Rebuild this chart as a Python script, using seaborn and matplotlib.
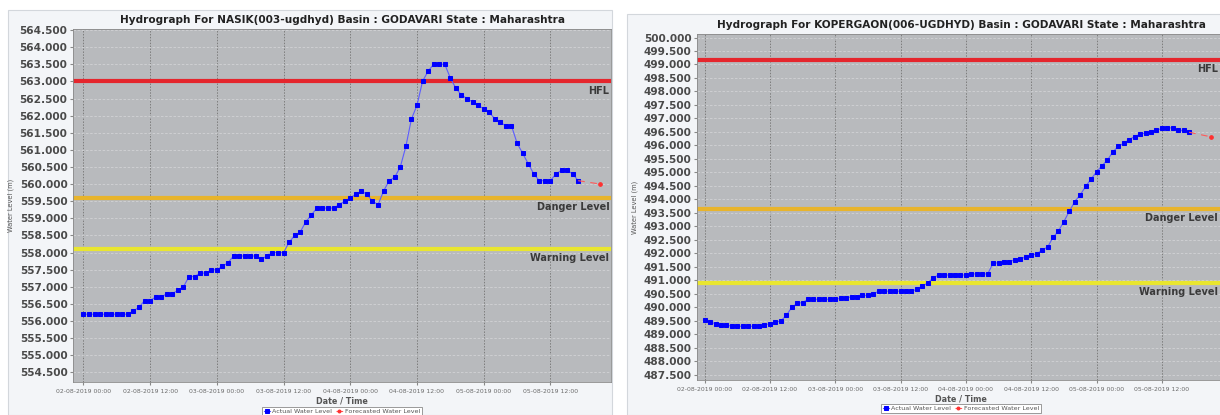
import numpy as np
import pandas as pd
import matplotlib
matplotlib.use("Agg")
import matplotlib.pyplot as plt
import matplotlib.dates as mdates
import matplotlib.ticker as mticker
import seaborn as sns
from matplotlib.patches import Rectangle

START = "2019-08-02 00:00"

# NASIK(003-ugdhyd) - hourly actual water level from 02-08-2019 00:00
nasik_actual = [
    556.2, 556.2, 556.2, 556.2, 556.2, 556.2, 556.2, 556.2, 556.2, 556.3,
    556.4, 556.6, 556.6, 556.7, 556.7, 556.8, 556.8, 556.9, 557.0, 557.3,
    557.3, 557.4, 557.4, 557.5, 557.5, 557.6, 557.7, 557.9, 557.9, 557.9,
    557.9, 557.9, 557.8, 557.9, 558.0, 558.0, 558.0, 558.3, 558.5, 558.6,
    558.9, 559.1, 559.3, 559.3, 559.3, 559.3, 559.4, 559.5, 559.6, 559.7,
    559.8, 559.7, 559.5, 559.4, 559.8, 560.1, 560.2, 560.5, 561.1, 561.9,
    562.3, 563.0, 563.3, 563.5, 563.5, 563.5, 563.1, 562.8, 562.6, 562.5,
    562.4, 562.3, 562.2, 562.1, 561.9, 561.8, 561.7, 561.7, 561.2, 560.9,
    560.6, 560.3, 560.1, 560.1, 560.1, 560.3, 560.4, 560.4, 560.3, 560.1,
]
nasik_forecast_hours = [89, 93]
nasik_forecast = [560.1, 560.0]
nasik_levels = {"HFL": 563.0, "Danger Level": 559.6, "Warning Level": 558.1}

# KOPERGAON(006-UGDHYD) - hourly actual water level from 02-08-2019 00:00
kop_actual = [
    489.55, 489.45, 489.40, 489.35, 489.35, 489.30, 489.30, 489.30, 489.30, 489.30,
    489.30, 489.35, 489.40, 489.45, 489.50, 489.70, 490.00, 490.15, 490.18, 490.30,
    490.30, 490.30, 490.30, 490.30, 490.30, 490.34, 490.34, 490.40, 490.40, 490.45,
    490.45, 490.50, 490.60, 490.60, 490.60, 490.60, 490.60, 490.60, 490.60, 490.67,
    490.80, 490.90, 491.10, 491.20, 491.20, 491.20, 491.20, 491.20, 491.20, 491.24,
    491.24, 491.24, 491.24, 491.64, 491.65, 491.67, 491.70, 491.76, 491.81, 491.86,
    491.93, 491.98, 492.13, 492.23, 492.59, 492.83, 493.18, 493.56, 493.92, 494.17,
    494.48, 494.76, 495.02, 495.25, 495.46, 495.76, 495.97, 496.08, 496.22, 496.33,
    496.42, 496.46, 496.51, 496.56, 496.63, 496.65, 496.65, 496.56, 496.56, 496.49,
]
kop_forecast_hours = [89, 93]
kop_forecast = [496.49, 496.32]
kop_levels = {"HFL": 499.17, "Danger Level": 493.65, "Warning Level": 490.9}

level_colors = {"HFL": "#e5262d", "Danger Level": "#e8b42c", "Warning Level": "#e9e62f"}

PLOT_BG = "#b8babd"
PANEL_BG = "#f3f5f8"


def draw_panel(ax, actual, fc_hours, forecast, levels, title, ylim, ytick_lo, ytick_hi,
               xlim_h, label_x=0.997):
    t0 = pd.Timestamp(START)
    act = pd.DataFrame({
        "time": pd.date_range(START, periods=len(actual), freq="h"),
        "level": actual,
    })
    fc = pd.DataFrame({
        "time": [t0 + pd.Timedelta(hours=h) for h in fc_hours],
        "level": forecast,
    })

    ax.set_facecolor(PLOT_BG)

    # threshold lines with their names just under the line, on the right
    for name, val in levels.items():
        ax.axhline(val, color=level_colors[name], lw=3.0, zorder=2)
        ax.annotate(name, xy=(label_x, val), xycoords=ax.get_yaxis_transform(),
                    xytext=(0, -3), textcoords="offset points",
                    ha="right", va="top", fontsize=7, fontweight="bold",
                    color="#3a3a3a", zorder=5)

    sns.lineplot(data=act, x="time", y="level", ax=ax, color="#5c5cff", lw=0.8,
                 marker="s", markersize=2.9, markerfacecolor="#0000ff",
                 markeredgecolor="#0000ff", zorder=4, label="Actual Water Level")
    sns.lineplot(data=fc, x="time", y="level", ax=ax, color="#ff5a5a", lw=0.8,
                 dashes=(6, 5), marker="o", markersize=2.6, markevery=[1],
                 markerfacecolor="#ff3030", markeredgecolor="#ff3030", zorder=4,
                 label="Forecasted Water Level")

    ax.set_xlim(t0 + pd.Timedelta(hours=xlim_h[0]), t0 + pd.Timedelta(hours=xlim_h[1]))
    ax.set_ylim(*ylim)
    ax.set_yticks(np.arange(ytick_lo, ytick_hi + 0.01, 0.5))
    ax.yaxis.set_major_formatter(mticker.FormatStrFormatter("%.3f"))
    ax.xaxis.set_major_locator(mdates.HourLocator(byhour=[0, 12]))
    ax.xaxis.set_major_formatter(mdates.DateFormatter("%d-%m-%Y %H:%M"))

    ax.grid(True, axis="x", color="#7d7d7d", lw=0.7, ls=(0, (1.5, 1.5)), zorder=1)
    ax.grid(True, axis="y", color="#d2d3d5", lw=0.6, ls=(0, (3, 2)), zorder=1)
    ax.set_axisbelow(True)

    ax.tick_params(axis="y", labelsize=7.6, labelcolor="#4a4a4a", length=2,
                   color="#888888", pad=2)
    for lbl in ax.get_yticklabels():
        lbl.set_fontweight("bold")
    ax.tick_params(axis="x", labelsize=4.4, labelcolor="#6a6a6a", length=2,
                   color="#888888", pad=3)
    for s in ax.spines.values():
        s.set_color("#8a8a8a")
        s.set_linewidth(0.6)

    ax.set_title(title, fontsize=7.6, fontweight="bold", color="#222222", pad=4)
    ax.set_xlabel("Date / Time", fontsize=5.8, fontweight="bold", color="#555555",
                  labelpad=2)
    ax.set_ylabel("Water Level (m)", fontsize=4.8, color="#555555", labelpad=4)

    leg = ax.legend(loc="center", bbox_to_anchor=(0.5, -0.083), ncol=2,
                    fontsize=4.6, frameon=True, fancybox=False, framealpha=1,
                    edgecolor="#8a8a8a", handlelength=1.0, handletextpad=0.3,
                    columnspacing=0.6, borderpad=0.3, markerscale=0.8)
    leg.get_frame().set_linewidth(0.6)
    for txt in leg.get_texts():
        txt.set_color("#555555")


fig = plt.figure(figsize=(12.2, 4.15), dpi=100)
fig.patch.set_facecolor("white")

W, H = 1220.0, 415.0
# panel backgrounds
fig.add_artist(Rectangle((8 / W, 0), 604 / W, 405 / H, transform=fig.transFigure,
                         fc=PANEL_BG, ec="#d3d7dc", lw=0.8, zorder=0))
fig.add_artist(Rectangle((627 / W, 0), 600 / W, 401 / H, transform=fig.transFigure,
                         fc=PANEL_BG, ec="#d3d7dc", lw=0.8, zorder=0))

ax1 = fig.add_axes([73 / W, (H - 382) / H, 538 / W, 353 / H])
ax2 = fig.add_axes([697 / W, (H - 380) / H, 528 / W, 346 / H])

draw_panel(ax1, nasik_actual, nasik_forecast_hours, nasik_forecast, nasik_levels,
           "Hydrograph For NASIK(003-ugdhyd) Basin : GODAVARI State : Maharashtra",
           (554.22, 564.53), 554.5, 564.5, (-1.87, 94.9))
# right chart runs past the picture edge; keep its level names inside
draw_panel(ax2, kop_actual, kop_forecast_hours, kop_forecast, kop_levels,
           "Hydrograph For KOPERGAON(006-UGDHYD) Basin : GODAVARI State : Maharashtra",
           (487.31, 500.13), 487.5, 500.0, (-1.4, 95.6),
           label_x=(1218 - 697) / 528)

fig.savefig("out.png", dpi=100)
